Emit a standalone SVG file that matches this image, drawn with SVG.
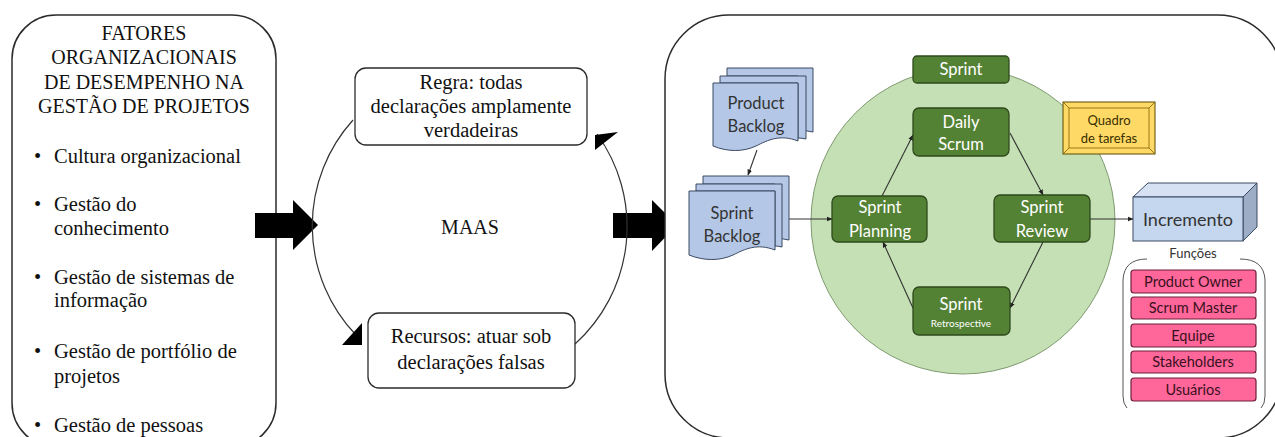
<svg xmlns="http://www.w3.org/2000/svg" width="1275" height="437" viewBox="0 0 1275 437">
<style>
.frame{fill:#fff;stroke:#2b2b2b;stroke-width:1.5}
.green{fill:#548235;stroke:#2e4a1c;stroke-width:1.3}
.gtxt{fill:#fff;font-size:16.5px;text-anchor:middle}
.doc{fill:#b4c7e7;stroke:#3b4a63;stroke-width:1}
.dtxt{fill:#333;font-size:16.5px;text-anchor:middle}
.pink{fill:#ff6699;stroke:#6e1f3c;stroke-width:1.2}
.ptxt{fill:#3a1020;font-size:14.5px;text-anchor:middle}
.link{fill:none;stroke:#333;stroke-width:1.1}
.arc{fill:none;stroke:#333;stroke-width:1.2}
</style>
<defs>
<marker id="ah" viewBox="0 0 10 10" refX="9" refY="5" markerWidth="6" markerHeight="6" orient="auto" markerUnits="userSpaceOnUse">
<path d="M0,1 L10,5 L0,9 Z" fill="#222"/>
</marker>
</defs>

<!-- Left panel -->
<g id="fatores">
<rect class="frame" x="12" y="15" width="264" height="432" rx="44"/>
<g font-family="'Liberation Serif', 'DejaVu Serif', serif" fill="#111" font-size="20" text-anchor="middle">
<text x="144" y="40">FATORES</text>
<text x="144" y="64">ORGANIZACIONAIS</text>
<text x="144" y="89">DE DESEMPENHO NA</text>
<text x="144" y="113">GESTÃO DE PROJETOS</text>
</g>
<g font-family="'Liberation Serif', 'DejaVu Serif', serif" fill="#111" font-size="20.5">
<text x="34" y="163">•</text><text x="54" y="163">Cultura organizacional</text>
<text x="34" y="211">•</text><text x="54" y="211">Gestão do</text>
<text x="54" y="235">conhecimento</text>
<text x="34" y="284">•</text><text x="54" y="284">Gestão de sistemas de</text>
<text x="54" y="307">informação</text>
<text x="34" y="358">•</text><text x="54" y="358">Gestão de portfólio de</text>
<text x="54" y="383">projetos</text>
<text x="34" y="432">•</text><text x="54" y="432">Gestão de pessoas</text>
</g>
</g>

<!-- Block arrows -->
<g id="block-arrows" fill="#000">
<polygon points="255,213 293,213 293,200 318,225 293,250 293,238 255,238"/>
<polygon points="613,213 652,213 652,200 677,225 652,251 652,238 613,238"/>
</g>

<!-- MAAS cycle -->
<g id="maas-connectors">
<path class="arc" d="M353,120 A158,158 0 0 0 356,335"/>
<polygon points="362,323 362,345 342,345" fill="#000"/>
<path class="arc" d="M575,344 A158,158 0 0 0 597,134"/>
<polygon points="595,150 595,135 618,132" fill="#000"/>
</g>
<g id="maas">
<text font-family="'Liberation Serif', 'DejaVu Serif', serif" fill="#111" font-size="20" x="470" y="234" text-anchor="middle">MAAS</text>
</g>
<g id="regra">
<rect x="355" y="68" width="232" height="77" rx="11" fill="#fff" stroke="#2b2b2b" stroke-width="1.3"/>
<g font-family="'Liberation Serif', 'DejaVu Serif', serif" fill="#111" font-size="20.5" text-anchor="middle">
<text x="471" y="89">Regra: todas</text>
<text x="471" y="113">declarações amplamente</text>
<text x="471" y="137">verdadeiras</text>
</g>
</g>
<g id="recursos">
<rect x="368" y="313" width="207" height="75" rx="11" fill="#fff" stroke="#2b2b2b" stroke-width="1.3"/>
<g font-family="'Liberation Serif', 'DejaVu Serif', serif" fill="#111" font-size="20.5" text-anchor="middle">
<text x="471" y="343">Recursos: atuar sob</text>
<text x="471" y="369">declarações falsas</text>
</g>
</g>

<!-- Right panel -->
<g id="scrum-frame">
<rect class="frame" x="665" y="15" width="617" height="423" rx="64"/>
</g>
<g id="sprint-circle">
<ellipse cx="963" cy="221" rx="152" ry="153" fill="#c5e0b4" stroke="#7f9a70" stroke-width="1"/>
</g>

<g id="connectors" class="link">
<line x1="757" y1="150" x2="748" y2="175" marker-end="url(#ah)"/>
<line x1="789" y1="219" x2="832" y2="219" marker-end="url(#ah)"/>
<line x1="882" y1="196" x2="913" y2="135" marker-end="url(#ah)"/>
<line x1="1010" y1="133" x2="1043" y2="195" marker-end="url(#ah)"/>
<line x1="1043" y1="242" x2="1010" y2="308" marker-end="url(#ah)"/>
<line x1="913" y1="308" x2="883" y2="242" marker-end="url(#ah)"/>
<line x1="1090" y1="219" x2="1133" y2="219" marker-end="url(#ah)"/>
</g>

<g font-family="Lato, 'Liberation Sans', sans-serif">
<g id="product-backlog">
<path class="doc" d="M727,68 H813 V132 Q806,130 798,131 V76 H727 Z"/>
<path class="doc" d="M720,76 H806 V139 Q802,138 798,138 V83 H720 Z"/>
<path class="doc" d="M713,83 H798 V141 C780,134 768,140 756,146 C743,152 728,152 713,146 Z"/>
<text class="dtxt" x="756" y="109">Product</text>
<text class="dtxt" x="756" y="132">Backlog</text>
</g>
<g id="sprint-backlog">
<path class="doc" d="M703,176 H789 V240 Q782,238 775,239 V184 H703 Z"/>
<path class="doc" d="M696,184 H782 V247 Q778,246 775,246 V191 H696 Z"/>
<path class="doc" d="M689,191 H775 V250 C757,243 745,249 733,255 C720,261 704,261 689,255 Z"/>
<text class="dtxt" x="732" y="219">Sprint</text>
<text class="dtxt" x="732" y="242">Backlog</text>
</g>

<g id="sprint">
<rect class="green" x="913" y="56" width="96" height="27" rx="4"/>
<text class="gtxt" x="961" y="75">Sprint</text>
</g>
<g id="daily-scrum">
<rect class="green" x="913" y="108" width="96" height="48" rx="6"/>
<text class="gtxt" x="961" y="128">Daily</text>
<text class="gtxt" x="961" y="150">Scrum</text>
</g>
<g id="sprint-planning">
<rect class="green" x="832" y="196" width="95" height="46" rx="6"/>
<text class="gtxt" x="880" y="213">Sprint</text>
<text class="gtxt" x="880" y="237">Planning</text>
</g>
<g id="sprint-review">
<rect class="green" x="994" y="195" width="96" height="47" rx="6"/>
<text class="gtxt" x="1042" y="213">Sprint</text>
<text class="gtxt" x="1042" y="237">Review</text>
</g>
<g id="sprint-retrospective">
<rect class="green" x="913" y="287" width="97" height="48" rx="6"/>
<text class="gtxt" x="961" y="310">Sprint</text>
<text x="961" y="327" fill="#fff" font-size="10" text-anchor="middle">Retrospective</text>
</g>

<g id="quadro">
<rect x="1063" y="102" width="92" height="52" fill="#ffd966" stroke="#5a4800" stroke-width="1"/>
<rect x="1069" y="108" width="80" height="40" fill="#ffd966" stroke="#7f6000" stroke-width="0.8"/>
<path d="M1063,102 L1069,108 M1155,102 L1149,108 M1063,154 L1069,148 M1155,154 L1149,148" stroke="#7f6000" stroke-width="0.8"/>
<text x="1109" y="125" font-size="13" fill="#3a3000" text-anchor="middle">Quadro</text>
<text x="1109" y="143" font-size="13" fill="#3a3000" text-anchor="middle">de tarefas</text>
</g>

<g id="incremento">
<polygon points="1133,197 1148,183 1257,183 1243,197" fill="#d6e2f4" stroke="#3b4a63" stroke-width="1"/>
<polygon points="1243,197 1257,183 1257,227 1243,241" fill="#9dadc6" stroke="#3b4a63" stroke-width="1"/>
<rect x="1133" y="197" width="110" height="44" fill="#c5d6ef" stroke="#3b4a63" stroke-width="1"/>
<text x="1188" y="226" font-size="18" fill="#333" text-anchor="middle">Incremento</text>
</g>

<g id="funcoes">
<text x="1193" y="258" font-size="13" fill="#333" text-anchor="middle">Funções</text>
<path d="M1147,259 Q1124,259 1123,280 V396 Q1123,404 1127,408" fill="none" stroke="#555" stroke-width="1"/>
<path d="M1240,259 Q1264,259 1265,280 V396 Q1265,404 1261,408" fill="none" stroke="#555" stroke-width="1"/>
</g>
<g id="product-owner"><rect class="pink" x="1131" y="270" width="125" height="23" rx="3"/><text class="ptxt" x="1193" y="287">Product Owner</text></g>
<g id="scrum-master"><rect class="pink" x="1131" y="297" width="125" height="22" rx="3"/><text class="ptxt" x="1193" y="313">Scrum Master</text></g>
<g id="equipe"><rect class="pink" x="1131" y="324" width="125" height="23" rx="3"/><text class="ptxt" x="1193" y="341">Equipe</text></g>
<g id="stakeholders"><rect class="pink" x="1131" y="351" width="125" height="22" rx="3"/><text class="ptxt" x="1193" y="367">Stakeholders</text></g>
<g id="usuarios"><rect class="pink" x="1131" y="378" width="125" height="23" rx="3"/><text class="ptxt" x="1193" y="395">Usuários</text></g>
</g>
</svg>
